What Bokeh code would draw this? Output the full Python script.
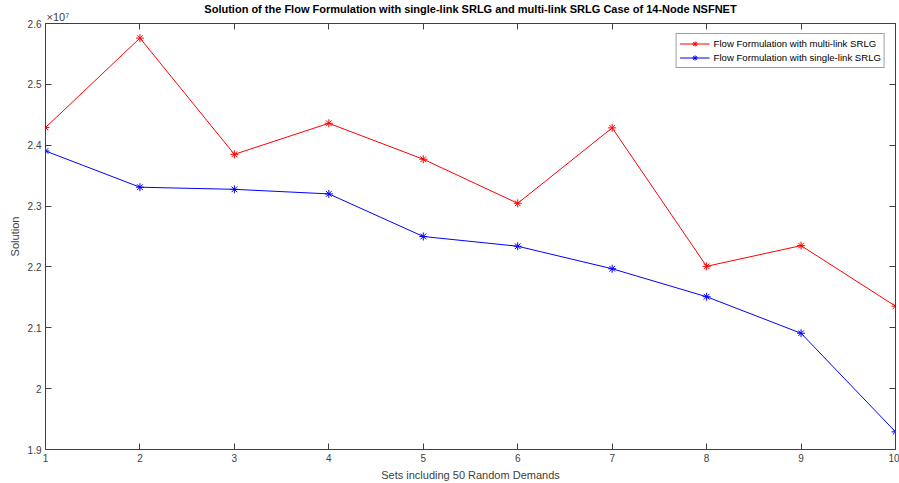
from bokeh.plotting import figure
from bokeh.models import LinearAxis, Range1d, FixedTicker, Title, Legend, LegendItem, CustomJSTickFormatter
from bokeh.embed import file_html
from bokeh.resources import INLINE

sets = [1, 2, 3, 4, 5, 6, 7, 8, 9, 10]
multi_link = [2.429e7, 2.576e7, 2.385e7, 2.436e7, 2.377e7, 2.3045e7, 2.4285e7, 2.201e7, 2.235e7, 2.1355e7]
single_link = [2.3905e7, 2.331e7, 2.3275e7, 2.320e7, 2.250e7, 2.234e7, 2.197e7, 2.151e7, 2.091e7, 1.929e7]
y_ticks = [1.9e7, 2.0e7, 2.1e7, 2.2e7, 2.3e7, 2.4e7, 2.5e7, 2.6e7]

FONT = "Liberation Sans"
AX = "#404040"

p = figure(width=899, height=483, output_backend="svg", toolbar_location=None,
           x_range=Range1d(1, 10), y_range=Range1d(1.9e7, 2.6e7),
           min_border_left=45, min_border_right=4, min_border_top=23, min_border_bottom=34)
p.grid.visible = False
p.outline_line_color = AX
p.outline_line_width = 1

fmt = CustomJSTickFormatter(code="return (tick/1e7).toFixed(1).replace(/\\.0$/, '');")
blank = CustomJSTickFormatter(code="return '';")

bottom = p.below[0]
left = p.left[0]
bottom.ticker = FixedTicker(ticks=sets)
bottom.axis_label = "Sets including 50 Random Demands"
left.ticker = FixedTicker(ticks=y_ticks)
left.formatter = fmt
left.axis_label = "Solution"

top = LinearAxis(ticker=FixedTicker(ticks=sets), formatter=blank, major_label_standoff=0)
right = LinearAxis(ticker=FixedTicker(ticks=y_ticks), formatter=blank, major_label_standoff=0)
p.add_layout(top, "above")
p.add_layout(right, "right")

exp_title = Title(text="×10⁷", align="left", text_font=FONT, text_font_size="11px",
                  text_font_style="normal", text_color=AX, offset=1, standoff=1)
main_title = Title(text="Solution of the Flow Formulation with single-link SRLG and multi-link SRLG Case of 14-Node NSFNET",
                   align="center", text_font=FONT, text_font_size="11px", text_font_style="bold",
                   text_color="#000000", offset=0, standoff=-13)
p.add_layout(exp_title, "above")
p.add_layout(main_title, "above")

for ax in [bottom, left, top, right]:
    ax.axis_line_color = AX
    ax.major_tick_line_color = AX
    ax.major_tick_in = 6
    ax.major_tick_out = 0
    ax.minor_tick_line_color = None
    ax.major_label_text_font = FONT
    ax.major_label_text_font_size = "10px"
    ax.major_label_text_color = AX
    ax.axis_label_text_font = FONT
    ax.axis_label_text_font_size = "11px"
    ax.axis_label_text_font_style = "normal"
    ax.axis_label_text_color = AX

for ax in [bottom, left]:
    ax.major_label_standoff = 4
    ax.axis_label_standoff = 4

r1l = p.line(sets, multi_link, line_color="#ff0000", line_width=1)
r1m = p.scatter(sets, multi_link, marker="asterisk", size=8, line_color="#ff0000", line_width=1)
r2l = p.line(sets, single_link, line_color="#0000ff", line_width=1)
r2m = p.scatter(sets, single_link, marker="asterisk", size=8, line_color="#0000ff", line_width=1)

legend = Legend(items=[
    LegendItem(label="Flow Formulation with multi-link SRLG", renderers=[r1l, r1m]),
    LegendItem(label="Flow Formulation with single-link SRLG", renderers=[r2l, r2m]),
], location="top_right")
legend.label_text_font = FONT
legend.label_text_font_size = "9.6px"
legend.label_text_color = "#000000"
legend.label_height = 13
legend.glyph_height = 13
legend.glyph_width = 30
legend.label_standoff = 4
legend.spacing = 1
legend.padding = 3
legend.margin = 10
legend.border_line_color = AX
legend.border_line_width = 1
p.add_layout(legend)

open("out.html", "w").write(file_html(p, INLINE))
